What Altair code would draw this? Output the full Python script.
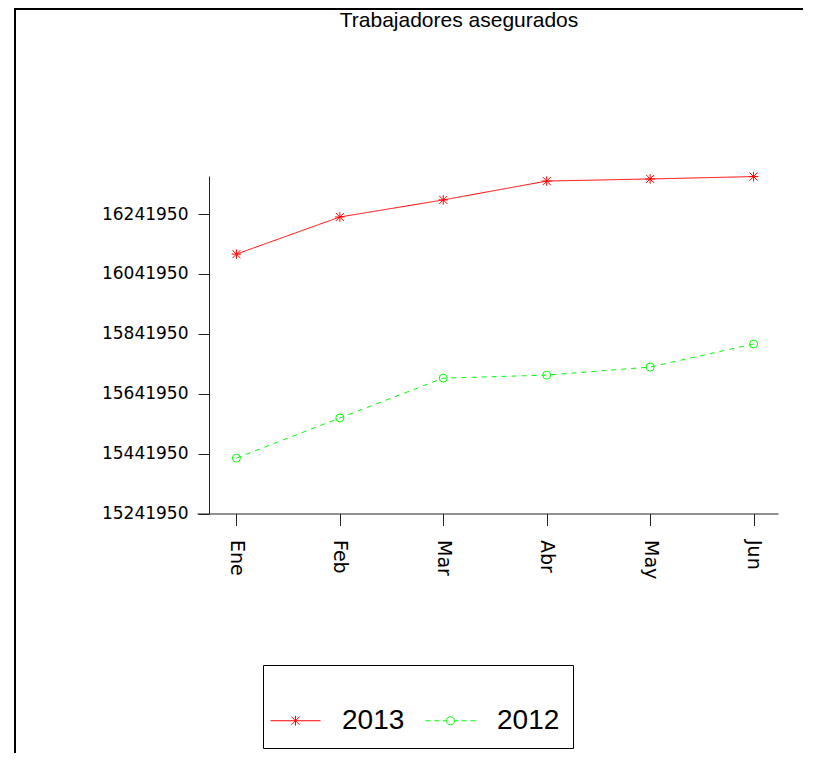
import altair as alt
import pandas as pd

# ---- data ----
months = ["Ene", "Feb", "Mar", "Abr", "May", "Jun"]
series_names = ["2013", "2012"]
values_2013 = [16108000, 16232000, 16289000, 16352000, 16359000, 16367000]
values_2012 = [15427000, 15561000, 15694000, 15704000, 15731000, 15808000]
y_ticks = [15241950, 15441950, 15641950, 15841950, 16041950, 16241950]
title_text = "Trabajadores asegurados"

series_colors = ["#ff0000", "#00ff00"]
series_dashes = [[1, 0], [5, 5]]

rows = []
for i, m in enumerate(months):
    rows.append({"idx": i, "mes": m, "serie": "2013", "valor": values_2013[i]})
for i, m in enumerate(months):
    rows.append({"idx": i, "mes": m, "serie": "2012", "valor": values_2012[i]})
df = pd.DataFrame(rows)

# marker glyphs
asterisk = "M-1,-1L1,1M-1,1L1,-1M0,-1.2V1.2M-1.2,0H1.2"
point_shapes = [asterisk, "circle"]
legend_2013 = "M-1.67,0H1.67M-0.27,-0.27L0.27,0.27M-0.27,0.27L0.27,-0.27M0,-0.33V0.33"
legend_2012 = ("M-1.67,0H-1.33M-1.07,0H-0.73M-0.53,0H-0.3"
               "M0.27,0A0.27,0.27 0 1,1 -0.27,0A0.27,0.27 0 1,1 0.27,0Z"
               "M0.3,0H0.53M0.73,0H1.07M1.33,0H1.67")
legend_shapes = [legend_2013, legend_2012]

month_expr = "[" + ",".join("'%s'" % m for m in months) + "][datum.value]"

axis_col = "#222222"
x_enc = alt.X(
    "idx:Q",
    scale=alt.Scale(domain=[-0.381, 5.236], nice=False, zero=False),
    axis=alt.Axis(values=list(range(len(months))), labelExpr=month_expr, title=None,
                  labelAngle=90, labelFont="DejaVu Sans", labelFontSize=19,
                  labelColor="black", tickSize=12, labelPadding=14,
                  domainColor=axis_col, tickColor=axis_col, grid=False),
)
y_enc = alt.Y(
    "valor:Q",
    scale=alt.Scale(domain=[15241950, 16368900], nice=False, zero=False),
    axis=alt.Axis(values=y_ticks, format="d", title=None, offset=-12,
                  labelFont="DejaVu Sans", labelFontSize=17, labelColor="black",
                  tickSize=11, labelPadding=10, domainColor=axis_col,
                  tickColor=axis_col, grid=False),
)

base = alt.Chart(df)

lines = base.mark_line(strokeWidth=1).encode(
    x=x_enc, y=y_enc,
    color=alt.Color("serie:N", scale=alt.Scale(domain=series_names, range=series_colors), legend=None),
    strokeDash=alt.StrokeDash("serie:N", scale=alt.Scale(domain=series_names, range=series_dashes), legend=None),
)

points = base.mark_point(filled=False, size=64, strokeWidth=1, opacity=1).encode(
    x=x_enc, y=y_enc,
    color=alt.Color("serie:N", scale=alt.Scale(domain=series_names, range=series_colors), legend=None),
    shape=alt.Shape("serie:N", scale=alt.Scale(domain=series_names, range=point_shapes), legend=None),
)

leg = alt.Legend(
    orient="none", legendX=66, legendY=489, direction="horizontal",
    title=" ", titleFontSize=19, titlePadding=8,
    strokeColor="black", padding=13,
    symbolSize=900, symbolStrokeWidth=1, symbolOpacity=1, symbolOffset=4,
    labelFont="Liberation Sans", labelFontSize=28, labelColor="black",
    labelOffset=31, columnPadding=18,
)

legend_layer = base.mark_point(filled=False, strokeWidth=1, opacity=0).encode(
    x=x_enc, y=y_enc,
    color=alt.Color("serie:N", scale=alt.Scale(domain=series_names, range=series_colors), legend=leg),
    shape=alt.Shape("serie:N", scale=alt.Scale(domain=series_names, range=legend_shapes), legend=leg),
)

title_df = pd.DataFrame({"t": [title_text]})
title_mark = alt.Chart(title_df).mark_text(
    font="Liberation Sans", fontSize=21, baseline="alphabetic", align="center", color="black"
).encode(text="t:N", x=alt.value(262), y=alt.value(-149))

frame_df = pd.DataFrame({"k": [0]})
frame_left = alt.Chart(frame_df).mark_rule(color="black", strokeWidth=2).encode(
    x=alt.value(-182), y=alt.value(-168), y2=alt.value(580))
frame_top = alt.Chart(frame_df).mark_rule(color="black", strokeWidth=2).encode(
    x=alt.value(-183), x2=alt.value(620), y=alt.value(-167))

chart = alt.layer(lines, points, legend_layer, title_mark, frame_left, frame_top).resolve_scale(
    color="independent", shape="independent"
).properties(
    width=581, height=337.5,
    autosize=alt.AutoSizeParams(type="none"),
    padding={"left": 189, "top": 168, "right": 25, "bottom": 239},
).configure_view(stroke=None)

chart.save("out.html", embed_options={"renderer": "svg", "actions": False})
